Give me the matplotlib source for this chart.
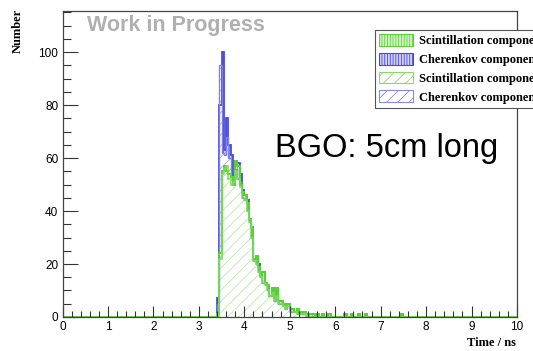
"""Arrival time of scintillation and Cherenkov photons, BGO 5 cm."""

import matplotlib
matplotlib.use("Agg")
import matplotlib.pyplot as plt
import numpy as np
from matplotlib.patches import Patch
from matplotlib.ticker import MultipleLocator

# histogram binning (ns)
n_bins = 200
x_range = (0.0, 10.0)
first_bin = 3.40  # first filled bin, 0.05 ns wide bins

# stack A (dense hatch)
scint_a = [1, 24, 55, 57, 55, 54, 53, 50, 59, 57, 50, 47, 46, 43, 37, 34, 22, 23,
           19, 16, 17, 13, 12, 8, 11, 7, 11, 6, 6, 5, 4, 5, 3, 3, 2, 3, 2, 1, 2,
           1, 1, 1, 1]
cher_a = [6, 56, 45, 6, 20, 11, 8, 2, 0, 1, 4, 1, 0, 1, 0, 0, 0, 0, 1]
tail_times = [5.60, 5.70, 5.85, 6.20, 6.35, 6.50, 6.65, 7.45]
tail_counts = [1, 1, 1, 1, 1, 1, 1, 1]

# stack B (diagonal hatch)
scint_b = [0, 22, 54, 56, 57, 52, 50, 51, 55, 52, 49, 45, 44, 40, 36, 30, 21, 20,
           17, 15, 13, 12, 10, 8, 9, 6, 8, 5, 5, 4, 3, 4, 2, 2, 2, 1, 1, 1, 1]
cher_b = [5, 73, 8, 5, 11, 8, 3, 1, 1, 0, 2]

labels = ["Scintillation component", "Cherenkov component",
          "Scintillation component", "Cherenkov component"]

GREEN = "#5ad236"
BLUE = "#4a4ad8"
plt.rcParams["hatch.linewidth"] = 0.6


def fill_hist(values):
    h = np.zeros(n_bins)
    i0 = int(round((first_bin - x_range[0]) / 0.05))
    h[i0:i0 + len(values)] = values
    return h


edges = np.linspace(x_range[0], x_range[1], n_bins + 1)
sa = fill_hist(scint_a)
for t, c in zip(tail_times, tail_counts):
    sa[int(round(t / 0.05))] += c
ca = fill_hist(cher_a)
sb = fill_hist(scint_b)
cb = fill_hist(cher_b)

fig = plt.figure(figsize=(5.33, 3.51), dpi=100)
ax = fig.add_axes([0.1173, 0.0969, 0.8527, 0.8718])

# stack A, dense
ax.stairs(sa, edges, fill=True, facecolor="#d4f2c8", edgecolor=GREEN,
          hatch="||||||", linewidth=0)
ax.stairs(sa + ca, edges, baseline=sa, fill=True, facecolor="#d0d0f6",
          edgecolor=BLUE, hatch="||||||", linewidth=0)
# stack B, diagonal, drawn on top
ax.stairs(sb, edges, fill=True, facecolor="white", edgecolor="#b8eaa6",
          hatch="///", linewidth=0)
ax.stairs(sb + cb, edges, baseline=sb, fill=True, facecolor="white",
          edgecolor="#a8a8ee", hatch="///", linewidth=0)

# outlines
ax.stairs(sa + ca, edges, color=BLUE, linewidth=1.3)
ax.stairs(sb + cb, edges, color="#8080e6", linewidth=1.0)
ax.stairs(sa, edges, color=GREEN, linewidth=1.4)
ax.stairs(sb, edges, color="#77dd55", linewidth=1.1)

ax.set_xlim(*x_range)
ax.set_ylim(0, 115.5)

ax.xaxis.set_major_locator(MultipleLocator(1))
ax.xaxis.set_minor_locator(MultipleLocator(0.2))
ax.yaxis.set_major_locator(MultipleLocator(20))
ax.yaxis.set_minor_locator(MultipleLocator(5))
ax.tick_params(which="both", direction="in", top=False, right=False,
               labelsize=8.5, colors="#333333", labelcolor="black", width=0.8)
ax.tick_params(axis="x", which="major", length=8, pad=3)
ax.tick_params(axis="x", which="minor", length=4)
ax.tick_params(axis="y", which="major", length=11, pad=3)
ax.tick_params(axis="y", which="minor", length=6)
for lab in ax.get_xticklabels() + ax.get_yticklabels():
    lab.set_family("Liberation Sans")
for sp in ax.spines.values():
    sp.set_color("#444444")
    sp.set_linewidth(0.9)

serif = dict(family="Liberation Serif", weight="bold", fontsize=9)
fig.text(18 / 533, 1 - 9 / 351, "Number", rotation=90, ha="center", va="top", **serif)
fig.text(516 / 533, 1 - 343 / 351, "Time / ns", ha="right", va="center", **serif)

fig.text(87 / 533, 1 - 26 / 351, "Work in Progress", family="Liberation Sans",
         weight="bold", fontsize=15.5, color="#b0b0b0", ha="left", va="center")
fig.text(275 / 533, 1 - 148 / 351, "BGO: 5cm long", family="Liberation Sans",
         fontsize=23.5, color="black", ha="left", va="center")

handles = [
    Patch(facecolor="#d4f2c8", edgecolor=GREEN, hatch="||||||", linewidth=0.8),
    Patch(facecolor="#d0d0f6", edgecolor=BLUE, hatch="||||||", linewidth=0.8),
    Patch(facecolor="white", edgecolor="#88dd66", hatch="///", linewidth=0.8),
    Patch(facecolor="white", edgecolor="#8888e6", hatch="///", linewidth=0.8),
]
leg = ax.legend(handles, labels, loc="upper left",
                bbox_to_anchor=(375 / 533, 1 - 30 / 351),
                bbox_transform=fig.transFigure, prop=dict(family="Liberation Serif",
                                                          weight="bold", size=9),
                fancybox=False, framealpha=1, edgecolor="#555555",
                handlelength=2.65, handleheight=1.05, labelspacing=0.45,
                borderpad=0.35, handletextpad=0.55, borderaxespad=0)
leg.get_frame().set_linewidth(0.8)

fig.savefig("out.png", dpi=100)
plt.close(fig)
